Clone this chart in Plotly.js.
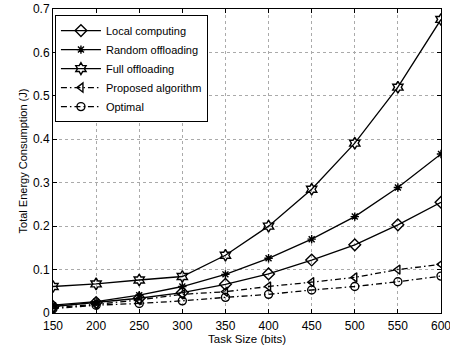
<!DOCTYPE html>
<html><head><meta charset="utf-8">
<script src="https://cdn.plot.ly/plotly-3.0.1.min.js"></script>
<style>html,body{margin:0;padding:0;background:#fff}#chart{width:450px;height:349px}</style>
</head><body><div id="chart"></div>
<script>
const taskSize = [150, 200, 250, 300, 350, 400, 450, 500, 550, 600];
const localComputing = [0.015, 0.024, 0.034, 0.047, 0.066, 0.090, 0.122, 0.157, 0.203, 0.255];
const randomOffloading = [0.018, 0.026, 0.041, 0.061, 0.089, 0.126, 0.170, 0.222, 0.289, 0.366];
const fullOffloading = [0.061, 0.067, 0.076, 0.084, 0.133, 0.200, 0.285, 0.391, 0.520, 0.676];
const proposed = [0.012, 0.020, 0.030, 0.043, 0.049, 0.061, 0.071, 0.082, 0.100, 0.112];
const optimal = [0.010, 0.018, 0.022, 0.028, 0.036, 0.043, 0.053, 0.061, 0.072, 0.085];
const names = ["Local computing", "Random offloading", "Full offloading", "Proposed algorithm", "Optimal"];

const dashDot = "6px,3px,1.5px,3px";
function tr(y, name, sym, dash, size) {
  return {x: taskSize, y: y, name: name, type: "scatter", mode: "lines+markers",
    line: {color: "#000", width: 1.3, dash: dash},
    marker: {symbol: sym, size: size, color: "#000", line: {color: "#000", width: 1.4}}};
}
const data = [
  tr(localComputing, names[0], "diamond-open", "solid", 9),
  tr(randomOffloading, names[1], "asterisk-open", "solid", 7),
  tr(fullOffloading, names[2], "hexagram-open", "solid", 9),
  tr(proposed, names[3], "triangle-left-open", dashDot, 8),
  tr(optimal, names[4], "circle-open", dashDot, 8)
];
const fam = "Liberation Sans, Arial";
const axCommon = {showline: true, linecolor: "#000", linewidth: 1, mirror: "allticks",
  ticks: "inside", ticklen: 4, tickcolor: "#000", showgrid: true,
  gridcolor: "#aaa", griddash: "dot", gridwidth: 1, zeroline: false,
  ticklabeloverflow: "allow",
  tickfont: {family: fam, size: 12, color: "#000"}};
const layout = {
  width: 450, height: 349,
  margin: {l: 53, r: 9, t: 9, b: 36},
  paper_bgcolor: "#fff", plot_bgcolor: "#fff",
  showlegend: true,
  legend: {x: 0.005, y: 0.98, xanchor: "left", yanchor: "top",
    bgcolor: "#fff", bordercolor: "#000", borderwidth: 1,
    font: {family: fam, size: 11, color: "#000"},
    tracegroupgap: 0, itemwidth: 40},
  xaxis: Object.assign({}, axCommon, {range: [150, 600], tickvals: taskSize, ticklabelstandoff: 2,
    title: {text: "Task Size (bits)", font: {family: fam, size: 11.5, color: "#000"}, standoff: 1}}),
  yaxis: Object.assign({}, axCommon, {range: [0, 0.7], dtick: 0.1, tickformat: ".1~f",
    title: {text: "Total Energy Consumption (J)", font: {family: fam, size: 11, color: "#000"}, standoff: 3}})
};
Plotly.newPlot("chart", data, layout, {displayModeBar: false, staticPlot: true});
</script></body></html>
